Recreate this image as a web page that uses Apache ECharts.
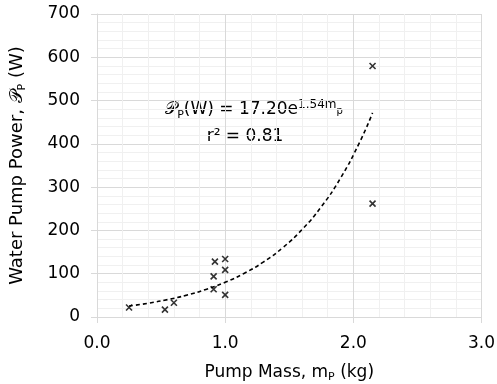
<!DOCTYPE html>
<html><head><meta charset="utf-8">
<script src="https://cdn.jsdelivr.net/npm/echarts@6/dist/echarts.min.js"></script>
<style>html,body{margin:0;padding:0;background:#fff}#c{width:497px;height:384px}</style>
</head><body><div id="c"></div>
<script>
// Measured points: pump mass (kg) and water pump power (W)
const pumpMass  = [0.25, 0.53, 0.60, 0.91, 0.91, 0.92, 1.00, 1.00, 1.00, 2.15, 2.15];
const pumpPower = [22,   17,   33,   64,   94,   128,  134,  109,  51,   580,  262];
// Exponential trend line
const trendMass  = [0.25, 0.4, 0.55, 0.7, 0.85, 1.0, 1.15, 1.3, 1.45, 1.6, 1.75, 1.9, 2.05, 2.15];
const trendPower = [25.3, 31.8, 40.1, 50.5, 63.7, 80.2, 101.1, 127.4, 160.4, 202.1, 254.7, 320.8, 404.2, 471.5];
const xTicks = [0, 1, 2, 3];
const yTicks = [0, 100, 200, 300, 400, 500, 600, 700];

const FONT = 'DejaVu Sans';
const chart = echarts.init(document.getElementById('c'), null, {renderer: 'canvas'});
const major = '#d9d9d9', minor = '#f0f0f0';
chart.setOption({
  animation: false,
  textStyle: {fontFamily: FONT, color: '#000'},
  grid: {left: 97, right: 15.5, top: 14, bottom: 67, containLabel: false, outerBoundsMode: 'none'},
  xAxis: {
    type: 'value', min: xTicks[0], max: xTicks[xTicks.length - 1], interval: 1,
    axisLine: {show: true, lineStyle: {color: major}},
    axisTick: {show: true, length: 6, lineStyle: {color: major}},
    axisLabel: {fontFamily: FONT, fontSize: 17, color: '#000', margin: 18, formatter: v => v.toFixed(1)},
    splitLine: {show: true, lineStyle: {color: major}},
    minorTick: {show: false, splitNumber: 5},
    minorSplitLine: {show: true, lineStyle: {color: minor}},
    name: '{a|Pump Mass, m}{s|P}{a| (kg)}', nameLocation: 'middle', nameGap: 46,
    nameTextStyle: {fontFamily: FONT, fontSize: 17, color: '#000',
      rich: {a: {fontFamily: FONT, fontSize: 17, color: '#000', lineHeight: 20},
             s: {fontFamily: FONT, fontSize: 11, color: '#000', lineHeight: 20, verticalAlign: 'bottom'}}}
  },
  yAxis: {
    type: 'value', min: yTicks[0], max: yTicks[yTicks.length - 1], interval: 100,
    axisLine: {show: true, lineStyle: {color: major}},
    axisTick: {show: true, length: 6, lineStyle: {color: major}},
    axisLabel: {fontFamily: FONT, fontSize: 17, color: '#000', margin: 17},
    splitLine: {show: true, lineStyle: {color: major}},
    minorTick: {show: false, splitNumber: 5},
    minorSplitLine: {show: true, lineStyle: {color: minor}},
    name: '{a|Water Pump Power, }{p|𝒫}{s|P}{a| (W)}', nameLocation: 'middle', nameGap: 69,
    nameTextStyle: {fontFamily: FONT, fontSize: 18, color: '#000',
      rich: {a: {fontFamily: FONT, fontSize: 18, color: '#000', lineHeight: 22},
             p: {fontFamily: FONT, fontSize: 18, color: '#000', lineHeight: 22},
             s: {fontFamily: FONT, fontSize: 11, color: '#000', lineHeight: 22, verticalAlign: 'bottom'}}}
  },
  graphic: [{
    type: 'text', x: 254, y: 110,
    style: {
      text: '{p|𝒫}{s|P}{a|(W) = 17.20e}{u|1.54m}{v|p}',
      fontFamily: FONT, fontSize: 17, fill: '#000', align: 'center', verticalAlign: 'middle',
      rich: {
        a: {fontFamily: FONT, fontSize: 17, fill: '#000', lineHeight: 26},
        p: {fontFamily: FONT, fontSize: 17, fill: '#000', lineHeight: 26},
        s: {fontFamily: FONT, fontSize: 11, fill: '#000', lineHeight: 26, verticalAlign: 'bottom', padding: [0, 0, 2, 0]},
        u: {fontFamily: FONT, fontSize: 12, fill: '#000', lineHeight: 26, verticalAlign: 'top', padding: [2, 0, 0, 0]},
        v: {fontFamily: FONT, fontSize: 10, fill: '#000', lineHeight: 26, verticalAlign: 'top', padding: [9, 0, 0, 0]}
      }
    }
  }, {
    type: 'text', x: 245, y: 137,
    style: {
      text: 'r² = 0.81', fontFamily: FONT, fontSize: 17, fill: '#000',
      align: 'center', verticalAlign: 'middle'
    }
  }],
  series: [
    {
      type: 'line', data: trendMass.map((m, i) => [m, trendPower[i]]),
      smooth: true, showSymbol: false, silent: true,
      lineStyle: {color: '#000', width: 1.6, type: [4, 3]}
    },
    {
      type: 'scatter', data: pumpMass.map((m, i) => [m, pumpPower[i]]),
      symbol: 'path://M0,0L10,10M10,0L0,10', symbolSize: 6,
      itemStyle: {color: 'none', borderColor: '#000', borderWidth: 1.6}
    }
  ]
});
</script></body></html>
